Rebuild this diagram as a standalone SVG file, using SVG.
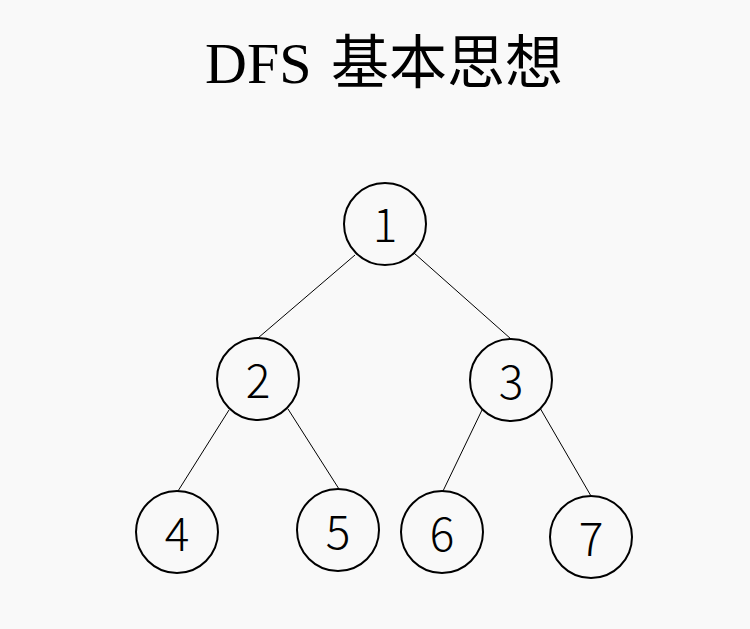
<svg xmlns="http://www.w3.org/2000/svg" width="750" height="629" viewBox="0 0 750 629">
<style>
.node circle{fill:#f9f9f9;stroke:#000;stroke-width:2}
.node text{font-family:"Noto Sans CJK SC","Noto Sans",sans-serif;font-weight:300;font-size:46px;text-anchor:middle;fill:#000}
.edges line{stroke:#000;stroke-width:1}
.title{font-size:58px;fill:#000}
.lat{font-family:"Liberation Serif","Times New Roman",serif}
.cjk{font-family:"Noto Sans CJK SC",sans-serif}
</style>
<rect width="750" height="629" fill="#f9f9f9"/>
<text class="title" x="205" y="83"><tspan class="lat">DFS </tspan><tspan class="cjk" x="331">基本思想</tspan></text>
<g class="edges">
<line x1="355" y1="255" x2="258" y2="338"/>
<line x1="414" y1="253" x2="511" y2="339"/>
<line x1="229" y1="410" x2="178" y2="491"/>
<line x1="288" y1="409" x2="339" y2="489"/>
<line x1="482" y1="410" x2="443" y2="491"/>
<line x1="540" y1="408" x2="591" y2="496"/>
</g>
<g id="n1" class="node"><circle cx="385" cy="224" r="41"/><text x="385" y="242">1</text></g>
<g id="n2" class="node"><circle cx="258" cy="379" r="41"/><text x="258" y="398">2</text></g>
<g id="n3" class="node"><circle cx="511" cy="380" r="41"/><text x="511" y="399">3</text></g>
<g id="n4" class="node"><circle cx="177" cy="532" r="41"/><text x="177" y="551">4</text></g>
<g id="n5" class="node"><circle cx="338" cy="530" r="41"/><text x="338" y="549">5</text></g>
<g id="n6" class="node"><circle cx="442" cy="532" r="41"/><text x="442" y="551">6</text></g>
<g id="n7" class="node"><circle cx="591" cy="537" r="41"/><text x="591" y="556">7</text></g>
</svg>
